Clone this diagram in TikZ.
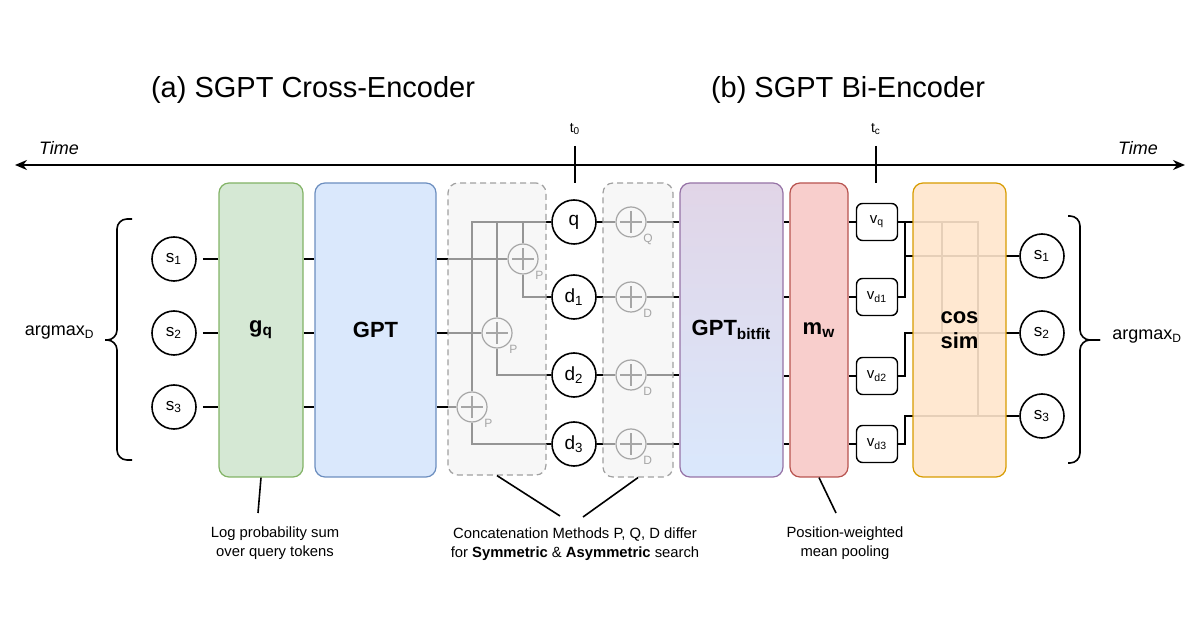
\documentclass[tikz,border=0pt]{standalone}
\usepackage{fontspec}
\setmainfont{Liberation Sans}
\usepackage{tikz}
\usetikzlibrary{arrows.meta}
\definecolor{gqfill}{HTML}{D5E8D4}
\definecolor{gqline}{HTML}{82B366}
\definecolor{gptfill}{HTML}{DAE8FC}
\definecolor{gptline}{HTML}{6C8EBF}
\definecolor{bitfill}{HTML}{E1D5E7}
\definecolor{bitline}{HTML}{9673A6}
\definecolor{mwfill}{HTML}{F8CECC}
\definecolor{mwline}{HTML}{B85450}
\definecolor{cosfill}{HTML}{FFE6CC}
\definecolor{cosline}{HTML}{D79B00}
\definecolor{catfill}{HTML}{F2F2F2}
\definecolor{catline}{HTML}{A0A0A0}
\definecolor{plusgray}{HTML}{A6A6A6}
\pgfdeclarelayer{wires}
\pgfdeclarelayer{veil}
\pgfsetlayers{wires,veil,main}
\tikzset{
  block/.style={draw, rounded corners=5pt, line width=0.6pt,
                minimum height=147pt, inner sep=0pt, align=center,
                font=\bfseries\fontsize{11}{12.5}\selectfont},
  gqbox/.style={block, draw=gqline, fill=gqfill, minimum width=42pt},
  gptbox/.style={block, draw=gptline, fill=gptfill, minimum width=60.5pt},
  bitbox/.style={block, draw=bitline, top color=bitfill,
                 bottom color=gptfill, minimum width=51.5pt},
  mwbox/.style={block, draw=mwline, fill=mwfill, minimum width=29pt},
  cosbox/.style={block, draw=cosline, fill=cosfill, fill opacity=0.9,
                 text opacity=1, minimum width=46.5pt},
  catbox/.style={draw=catline, dash pattern=on 3pt off 2pt, fill=catfill,
                 fill opacity=0.62, rounded corners=5pt, line width=0.6pt,
                 inner sep=0pt},
  scircle/.style={circle, draw=black, line width=0.8pt, minimum size=22pt,
                  inner sep=0pt, font=\fontsize{8.5}{10}\selectfont},
  tokcircle/.style={scircle, font=\fontsize{9.5}{11}\selectfont},
  vbox/.style={draw=black, rounded corners=3pt, line width=0.7pt,
               minimum width=20.5pt, minimum height=18.5pt, inner sep=0pt,
               font=\fontsize{7.5}{9}\selectfont},
  plusnode/.style={circle, draw=plusgray, line width=0.6pt,
                   minimum size=15pt, inner sep=0pt,
                   path picture={
                     \draw[plusgray, line width=0.6pt]
                       ([xshift=-5.5pt]path picture bounding box.center)
                       -- ([xshift=5.5pt]path picture bounding box.center)
                       ([yshift=-5.5pt]path picture bounding box.center)
                       -- ([yshift=5.5pt]path picture bounding box.center);}},
  plabel/.style={font=\fontsize{6}{7}\selectfont, text=plusgray,
                 inner sep=0.5pt},
  wire/.style={draw=black, line width=0.8pt},
  curly/.style={draw=black, line width=0.8pt, rounded corners=5pt},
  timeaxis/.style={{Stealth[length=6pt,width=5pt]}-{Stealth[length=6pt,width=5pt]},
                   draw=black, line width=1pt},
  title/.style={font=\fontsize{14.5}{17}\selectfont, inner sep=0pt},
  timelabel/.style={font=\itshape\fontsize{9}{11}\selectfont, inner sep=0pt},
  ticklabel/.style={font=\fontsize{7}{8.5}\selectfont, inner sep=0pt},
  argtext/.style={font=\fontsize{9}{11}\selectfont, inner sep=0pt},
  note/.style={font=\fontsize{7.4}{9.5}\selectfont, align=center,
               inner sep=0pt}
}

\begin{document}
\begin{tikzpicture}[x=0.5pt,y=-0.5pt]
  \path[use as bounding box] (0,0) rectangle (1200,630);

  % -------------------------------------------------------------------------
  % Titles and the time axis.
  \node[title] (titlea) at (313,90) {(a) SGPT Cross-Encoder};
  \node[title] (titleb) at (848,90) {(b) SGPT Bi-Encoder};

  \coordinate (tleft) at (15,165);
  \coordinate (tright) at (1185,165);
  \draw[timeaxis] (tleft) -- (tright);
  \node[timelabel] (timel) at (59,148) {Time};
  \node[timelabel] (timer) at (1138,148) {Time};

  \coordinate (t0top) at (575,146);
  \coordinate (t0bot) at (575,183);
  \draw[wire] (t0top) -- (t0bot);
  \node[ticklabel] (t0lab) at (575,129) {t\textsubscript{0}};
  \coordinate (tctop) at (876,146);
  \coordinate (tcbot) at (876,183);
  \draw[wire] (tctop) -- (tcbot);
  \node[ticklabel] (tclab) at (876,129) {t\textsubscript{c}};

  % -------------------------------------------------------------------------
  % (a) Cross-encoder: scores, g_q, GPT and the concatenation step.
  \draw[curly] (132,219) -- (117,219) -- (117,340) -- (105,340);
  \draw[curly] (132,460) -- (117,460) -- (117,340) -- (105,340);
  \node[argtext,anchor=east] (arga) at (95,333) {argmax\textsubscript{D}};

  \node[scircle] (sa1) at (174,259) {s\textsubscript{1}};
  \node[scircle] (sa2) at (174,333) {s\textsubscript{2}};
  \node[scircle] (sa3) at (174,407) {s\textsubscript{3}};

  \node[gqbox] (gq) at (261,330) {g\textsubscript{q}};
  \node[gptbox] (gpt) at (375.5,330) {GPT};

  \node[tokcircle] (q) at (574,222) {q};
  \node[tokcircle] (d1) at (574,297) {d\textsubscript{1}};
  \node[tokcircle] (d2) at (574,375) {d\textsubscript{2}};
  \node[tokcircle] (d3) at (574,444) {d\textsubscript{3}};

  \node[plusnode,label={[plabel]south east:P}] (p1) at (523,259) {};
  \node[plusnode,label={[plabel]south east:P}] (p2) at (497,333) {};
  \node[plusnode,label={[plabel]south east:P}] (p3) at (472,407) {};
  \node[plusnode,label={[plabel]south east:Q}] (pq) at (631,222) {};
  \node[plusnode,label={[plabel]south east:D}] (pd1) at (631,297) {};
  \node[plusnode,label={[plabel]south east:D}] (pd2) at (631,375) {};
  \node[plusnode,label={[plabel]south east:D}] (pd3) at (631,444) {};

  % -------------------------------------------------------------------------
  % (b) Bi-encoder: GPT_bitfit, pooling, vectors and cosine similarity.
  \node[bitbox] (bitfit) at (731.5,330) {GPT\textsubscript{bitfit}};
  \node[mwbox] (mw) at (819,330) {m\textsubscript{w}};

  \node[vbox] (vq) at (877,222) {v\textsubscript{q}};
  \node[vbox] (vd1) at (877,297) {v\textsubscript{d1}};
  \node[vbox] (vd2) at (877,376) {v\textsubscript{d2}};
  \node[vbox] (vd3) at (877,444) {v\textsubscript{d3}};

  \node[scircle] (sb1) at (1042,256) {s\textsubscript{1}};
  \node[scircle] (sb2) at (1042,333) {s\textsubscript{2}};
  \node[scircle] (sb3) at (1042,416) {s\textsubscript{3}};

  \draw[curly] (1068,216) -- (1080,216) -- (1080,340) -- (1100,340);
  \draw[curly] (1068,463) -- (1080,463) -- (1080,340) -- (1100,340);
  \node[argtext,anchor=west] (argb) at (1112,337) {argmax\textsubscript{D}};

  \coordinate (jx) at (905,0);
  \coordinate (kx) at (942,0);
  \coordinate (mx) at (978,0);

  % Boxes that lie over the wires, so the wires show through faintly.
  \begin{pgfonlayer}{veil}
    \node[catbox,minimum width=49pt,minimum height=146pt] (cat1)
      at (497,329) {};
    \node[catbox,minimum width=35pt,minimum height=147pt] (cat2)
      at (638,330) {};
    \node[cosbox] (cos) at (959.5,330) {cos\\sim};
  \end{pgfonlayer}

  % -------------------------------------------------------------------------
  % Wires.
  \begin{pgfonlayer}{wires}
    \draw[wire,shorten <=3pt] (sa1.east) -- (gq.west |- sa1);
    \draw[wire,shorten <=3pt] (sa2.east) -- (gq.west |- sa2);
    \draw[wire,shorten <=3pt] (sa3.east) -- (gq.west |- sa3);
    \draw[wire] (gq.east |- sa1) -- (gpt.west |- sa1);
    \draw[wire] (gq.east |- sa2) -- (gpt.west |- sa2);
    \draw[wire] (gq.east |- sa3) -- (gpt.west |- sa3);

    \draw[wire] (gpt.east |- p1) -- (p1.west);
    \draw[wire] (gpt.east |- p2) -- (p2.west);
    \draw[wire] (gpt.east |- p3) -- (p3.west);
    \draw[wire] (q.west) -| (p1.north);
    \draw[wire] (q.west) -| (p2.north);
    \draw[wire] (q.west) -| (p3.north);
    \draw[wire] (p1.south) |- (d1.west);
    \draw[wire] (p2.south) |- (d2.west);
    \draw[wire] (p3.south) |- (d3.west);

    \draw[wire] (q.east) -- (pq.west);
    \draw[wire] (d1.east) -- (pd1.west);
    \draw[wire] (d2.east) -- (pd2.west);
    \draw[wire] (d3.east) -- (pd3.west);
    \draw[wire] (pq.east) -- (bitfit.west |- pq);
    \draw[wire] (pd1.east) -- (bitfit.west |- pd1);
    \draw[wire] (pd2.east) -- (bitfit.west |- pd2);
    \draw[wire] (pd3.east) -- (bitfit.west |- pd3);

    \draw[wire] (bitfit.east |- vq) -- (mw.west |- vq);
    \draw[wire] (bitfit.east |- vd1) -- (mw.west |- vd1);
    \draw[wire] (bitfit.east |- vd2) -- (mw.west |- vd2);
    \draw[wire] (bitfit.east |- vd3) -- (mw.west |- vd3);
    \draw[wire] (mw.east |- vq) -- (vq.west);
    \draw[wire] (mw.east |- vd1) -- (vd1.west);
    \draw[wire] (mw.east |- vd2) -- (vd2.west);
    \draw[wire] (mw.east |- vd3) -- (vd3.west);

    % v_q meets each document vector on its way to a score.
    \draw[wire] (vq.east) -| (jx |- sb1) -- (sb1.west);
    \draw[wire] (vd1.east) -| (jx |- sb1) -- (sb1.west);
    \draw[wire] (vq.east) -| (kx |- sb2) -- (sb2.west);
    \draw[wire] (vd2.east) -| (jx |- sb2) -- (sb2.west);
    \draw[wire] (vq.east) -| (mx |- sb3) -- (sb3.west);
    \draw[wire] (vd3.east) -| (jx |- sb3) -- (sb3.west);
  \end{pgfonlayer}

  % -------------------------------------------------------------------------
  % Notes below the boxes.
  \node[note] (lognote) at (275,543) {Log probability sum\\over query tokens};
  \node[note] (catnote) at (575,544)
    {Concatenation Methods P, Q, D differ\\for \textbf{Symmetric} \&
     \textbf{Asymmetric} search};
  \node[note] (poolnote) at (845,543) {Position-weighted\\mean pooling};

  \coordinate (logtip) at (258,513);
  \coordinate (cattipl) at (560,516);
  \coordinate (cattipr) at (583,517);
  \coordinate (pooltip) at (836,513);
  \draw[wire] (gq.south) -- (logtip);
  \draw[wire] (cat1.south) -- (cattipl);
  \draw[wire] (cat2.south) -- (cattipr);
  \draw[wire] (mw.south) -- (pooltip);
\end{tikzpicture}
\end{document}
